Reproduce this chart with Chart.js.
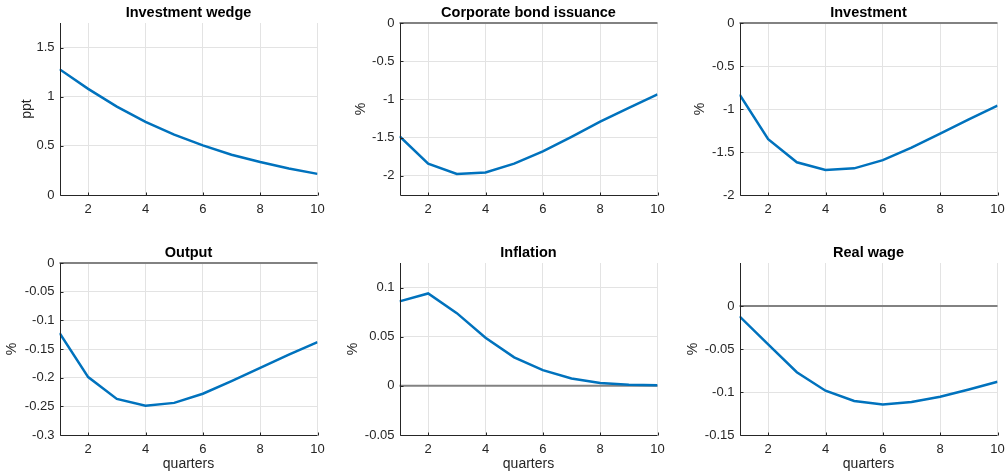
<!DOCTYPE html>
<html>
<head>
<meta charset="utf-8">
<script src="https://cdn.jsdelivr.net/npm/chart.js@4/dist/chart.umd.min.js"></script>
<style>
  html, body { margin: 0; padding: 0; background: #ffffff; }
  body { width: 1006px; height: 473px; position: relative; overflow: hidden; }
  canvas { position: absolute; }
</style>
</head>
<body>
<canvas id="c1" width="326" height="233" style="left:0px;top:0px"></canvas>
<canvas id="c2" width="326" height="233" style="left:340px;top:0px"></canvas>
<canvas id="c3" width="326" height="233" style="left:680px;top:0px"></canvas>
<canvas id="c4" width="326" height="233" style="left:0px;top:240px"></canvas>
<canvas id="c5" width="326" height="233" style="left:340px;top:240px"></canvas>
<canvas id="c6" width="326" height="233" style="left:680px;top:240px"></canvas>
<script>
// Impulse responses, quarters 1..10
const quarters = [1, 2, 3, 4, 5, 6, 7, 8, 9, 10];
const quarterTicks = [2, 4, 6, 8, 10];

const investmentWedge = [1.28, 1.08, 0.90, 0.745, 0.615, 0.505, 0.41, 0.335, 0.27, 0.215];
const bondIssuance   = [-1.48, -1.84, -1.975, -1.955, -1.84, -1.68, -1.49, -1.29, -1.11, -0.935];
const investment     = [-0.83, -1.35, -1.62, -1.71, -1.69, -1.595, -1.45, -1.285, -1.12, -0.96];
const output         = [-0.122, -0.199, -0.237, -0.249, -0.244, -0.228, -0.206, -0.183, -0.16, -0.138];
const inflation      = [0.086, 0.094, 0.074, 0.049, 0.029, 0.016, 0.0075, 0.003, 0.0012, 0.0007];
const realWage       = [-0.012, -0.0445, -0.077, -0.0985, -0.1105, -0.1145, -0.1115, -0.1055, -0.097, -0.088];

// y-axis ticks per panel
const wedgeTicks     = [0, 0.5, 1, 1.5];
const bondTicks      = [-2, -1.5, -1, -0.5, 0];
const investTicks    = [-2, -1.5, -1, -0.5, 0];
const outputTicks    = [-0.3, -0.25, -0.2, -0.15, -0.1, -0.05, 0];
const inflationTicks = [-0.05, 0, 0.05, 0.1];
const wageTicks      = [-0.15, -0.1, -0.05, 0];

const FONT = '"Liberation Sans", Helvetica, Arial, sans-serif';
const AXIS_COLOR = '#262626';
const GRID_COLOR = '#e3e3e3';
const LINE_COLOR = '#0072bd';
const ZERO_COLOR = '#828282';

// axis lines on the left/bottom with short inward tick marks, drawn over the data
const axesFrame = {
  id: 'axesFrame',
  afterDatasetsDraw(chart) {
    const { ctx, chartArea: a, scales: { x, y } } = chart;
    const L = Math.round(a.left) + 0.5, B = Math.round(a.bottom) + 0.5;
    ctx.save();
    ctx.strokeStyle = AXIS_COLOR;
    ctx.lineWidth = 1;
    ctx.beginPath();
    ctx.moveTo(L, a.top);
    ctx.lineTo(L, B);
    ctx.lineTo(a.right, B);
    x.ticks.forEach(t => {
      const px = Math.round(x.getPixelForValue(t.value)) + 0.5;
      ctx.moveTo(px, B);
      ctx.lineTo(px, B - 3);
    });
    y.ticks.forEach(t => {
      const py = Math.round(y.getPixelForValue(t.value)) + 0.5;
      ctx.moveTo(L, py);
      ctx.lineTo(L + 3, py);
    });
    ctx.stroke();
    ctx.restore();
  }
};

function fmt(v) {
  return String(parseFloat(Number(v).toFixed(4)));
}

function panel(id, title, values, yMin, yMax, yTicks, yLabel, yLabelPad, showXLabel) {
  const datasets = [
    { data: quarters.map((q, i) => ({ x: q, y: values[i] })),
      borderColor: LINE_COLOR, borderWidth: 2.5, pointRadius: 0, tension: 0, order: 1 }
  ];
  // grey reference line at zero when it lies inside the plot
  if (yMin < 0 && yMax >= 0) {
    datasets.push({ data: quarters.map(q => ({ x: q, y: 0 })),
      borderColor: ZERO_COLOR, borderWidth: 2, pointRadius: 0, tension: 0, clip: false, order: 2 });
  }
  new Chart(document.getElementById(id), {
    type: 'line',
    data: { datasets },
    options: {
      responsive: false,
      devicePixelRatio: 1,
      animation: false,
      events: [],
      layout: { padding: { left: 0, right: 8.5, top: 0, bottom: 0 } },
      plugins: {
        legend: { display: false },
        tooltip: { enabled: false },
        title: {
          display: true,
          text: title,
          fullSize: false,
          color: '#000000',
          font: { family: FONT, size: 14.5, weight: 'bold', lineHeight: 1.2 },
          padding: { top: 4.2, bottom: 1.4 }
        }
      },
      scales: {
        x: {
          type: 'linear',
          min: 1, max: 10,
          afterBuildTicks: s => { s.ticks = quarterTicks.map(v => ({ value: v })); },
          afterFit: s => { s.height = 38; s.paddingLeft = 0; s.paddingRight = 0; },
          grid: { color: GRID_COLOR, lineWidth: 1, drawTicks: false },
          border: { display: false },
          ticks: { color: AXIS_COLOR, padding: 6.5, maxRotation: 0, font: { family: FONT, size: 13 }, callback: v => fmt(v) },
          title: {
            display: showXLabel, text: 'quarters', color: AXIS_COLOR,
            font: { family: FONT, size: 14, lineHeight: 1.2 }, padding: { top: 0, bottom: 0 }
          }
        },
        y: {
          type: 'linear',
          min: yMin, max: yMax,
          afterBuildTicks: s => { s.ticks = yTicks.map(v => ({ value: v })); },
          afterFit: s => { s.width = 59.5; s.paddingTop = 0; s.paddingBottom = 0; },
          grid: { color: GRID_COLOR, lineWidth: 1, drawTicks: false },
          border: { display: false },
          ticks: { color: AXIS_COLOR, padding: 5, font: { family: FONT, size: 13 }, callback: v => fmt(v) },
          title: {
            display: true, text: yLabel, color: AXIS_COLOR,
            font: { family: FONT, size: 14, lineHeight: 1.2 }, padding: { top: yLabelPad, bottom: 0 }
          }
        }
      }
    },
    plugins: [axesFrame]
  });
}

panel('c1', 'Investment wedge', investmentWedge, 0, 1.75, wedgeTicks, 'ppt', 19, false);
panel('c2', 'Corporate bond issuance', bondIssuance, -2.25, 0, bondTicks, '%', 12.6, false);
panel('c3', 'Investment', investment, -2, 0, investTicks, '%', 11.6, false);
panel('c4', 'Output', output, -0.3, 0, outputTicks, '%', 3.9, true);
panel('c5', 'Inflation', inflation, -0.05, 0.125, inflationTicks, '%', 4.3, true);
panel('c6', 'Real wage', realWage, -0.15, 0.05, wageTicks, '%', 4.9, true);
</script>
</body>
</html>
